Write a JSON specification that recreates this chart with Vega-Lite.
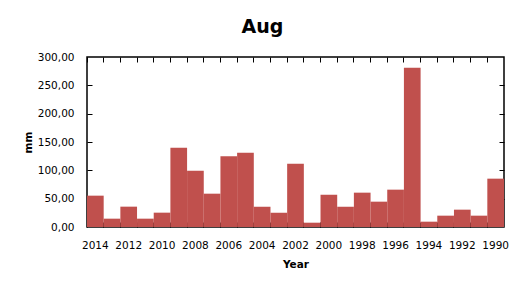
{
  "$schema": "https://vega.github.io/schema/vega-lite/v6.json",
  "width": 417,
  "height": 170,
  "autosize": "none",
  "padding": {"left": 87, "top": 57, "right": 19, "bottom": 63},
  "title": {"text": "Aug", "fontSize": 19, "font": "DejaVu Sans", "fontWeight": "bold", "color": "#000", "anchor": "middle", "dx": -33, "offset": 15},
  "data": {"values": [
    {"Year": 2014, "mm": 55.3}, {"Year": 2013, "mm": 14.7}, {"Year": 2012, "mm": 35.9}, {"Year": 2011, "mm": 14.7},
    {"Year": 2010, "mm": 25.3}, {"Year": 2009, "mm": 140.0}, {"Year": 2008, "mm": 99.4}, {"Year": 2007, "mm": 58.8},
    {"Year": 2006, "mm": 124.7}, {"Year": 2005, "mm": 131.2}, {"Year": 2004, "mm": 35.9}, {"Year": 2003, "mm": 25.3},
    {"Year": 2002, "mm": 111.8}, {"Year": 2001, "mm": 7.6}, {"Year": 2000, "mm": 57.0}, {"Year": 1999, "mm": 35.9},
    {"Year": 1998, "mm": 60.6}, {"Year": 1997, "mm": 44.7}, {"Year": 1996, "mm": 65.9}, {"Year": 1995, "mm": 281.2},
    {"Year": 1994, "mm": 9.4}, {"Year": 1993, "mm": 20.0}, {"Year": 1992, "mm": 30.6}, {"Year": 1991, "mm": 20.0},
    {"Year": 1990, "mm": 85.3}
  ]},
  "resolve": {"axis": {"x": "independent", "y": "independent"}},
  "layer": [
    {
      "mark": {"type": "bar", "color": "#C0504D"},
      "encoding": {
        "x": {"field": "Year", "type": "ordinal", "sort": "descending",
              "scale": {"paddingInner": 0, "paddingOuter": 0},
              "axis": {"orient": "bottom", "title": "Year", "values": [2014, 2012, 2010, 2008, 2006, 2004, 2002, 2000, 1998, 1996, 1994, 1992, 1990],
                       "labelAngle": 0, "ticks": false, "domain": false, "labelPadding": 13, "labelFont": "DejaVu Sans", "labelFontSize": 10.5, "labelColor": "#000",
                       "titleFont": "DejaVu Sans", "titleFontSize": 10.5, "titleFontWeight": "bold", "titleColor": "#000", "titlePadding": 9}},
        "y": {"field": "mm", "type": "quantitative",
              "scale": {"domain": [0, 300], "nice": false},
              "axis": {"orient": "left", "title": "mm", "values": [0, 50, 100, 150, 200, 250, 300], "grid": false, "ticks": false, "domain": false,
                       "labelExpr": "replace(format(datum.value, '.2f'), '.', ',')", "labelPadding": 13,
                       "labelFont": "DejaVu Sans", "labelFontSize": 10.5, "labelColor": "#000",
                       "titleFont": "DejaVu Sans", "titleFontSize": 10.5, "titleFontWeight": "bold", "titleColor": "#000", "titlePadding": 4}}
      }
    },
    {
      "mark": {"type": "bar", "opacity": 0},
      "encoding": {
        "x": {"field": "Year", "type": "ordinal", "sort": "descending",
              "axis": {"orient": "top", "title": null, "labels": false, "domain": false, "bandPosition": 0, "tickSize": -5, "tickColor": "#000", "tickWidth": 1}},
        "y": {"field": "mm", "type": "quantitative",
              "axis": {"orient": "right", "title": null, "labels": false, "domain": false, "grid": false, "values": [50, 100, 150, 200, 250], "tickSize": -5, "tickColor": "#000", "tickWidth": 1}}
      }
    },
    {
      "mark": {"type": "bar", "opacity": 0},
      "encoding": {
        "x": {"field": "Year", "type": "ordinal", "sort": "descending",
              "axis": {"orient": "bottom", "title": null, "labels": false, "domain": false, "bandPosition": 0, "tickSize": -5, "tickColor": "#000", "tickWidth": 1}},
        "y": {"field": "mm", "type": "quantitative",
              "axis": {"orient": "left", "title": null, "labels": false, "domain": false, "grid": false, "values": [50, 100, 150, 200, 250], "tickSize": -5, "tickColor": "#000", "tickWidth": 1}}
      }
    }
  ],
  "config": {
    "view": {"stroke": "#000", "strokeWidth": 1.5},
    "axis": {"grid": false}
  }
}
